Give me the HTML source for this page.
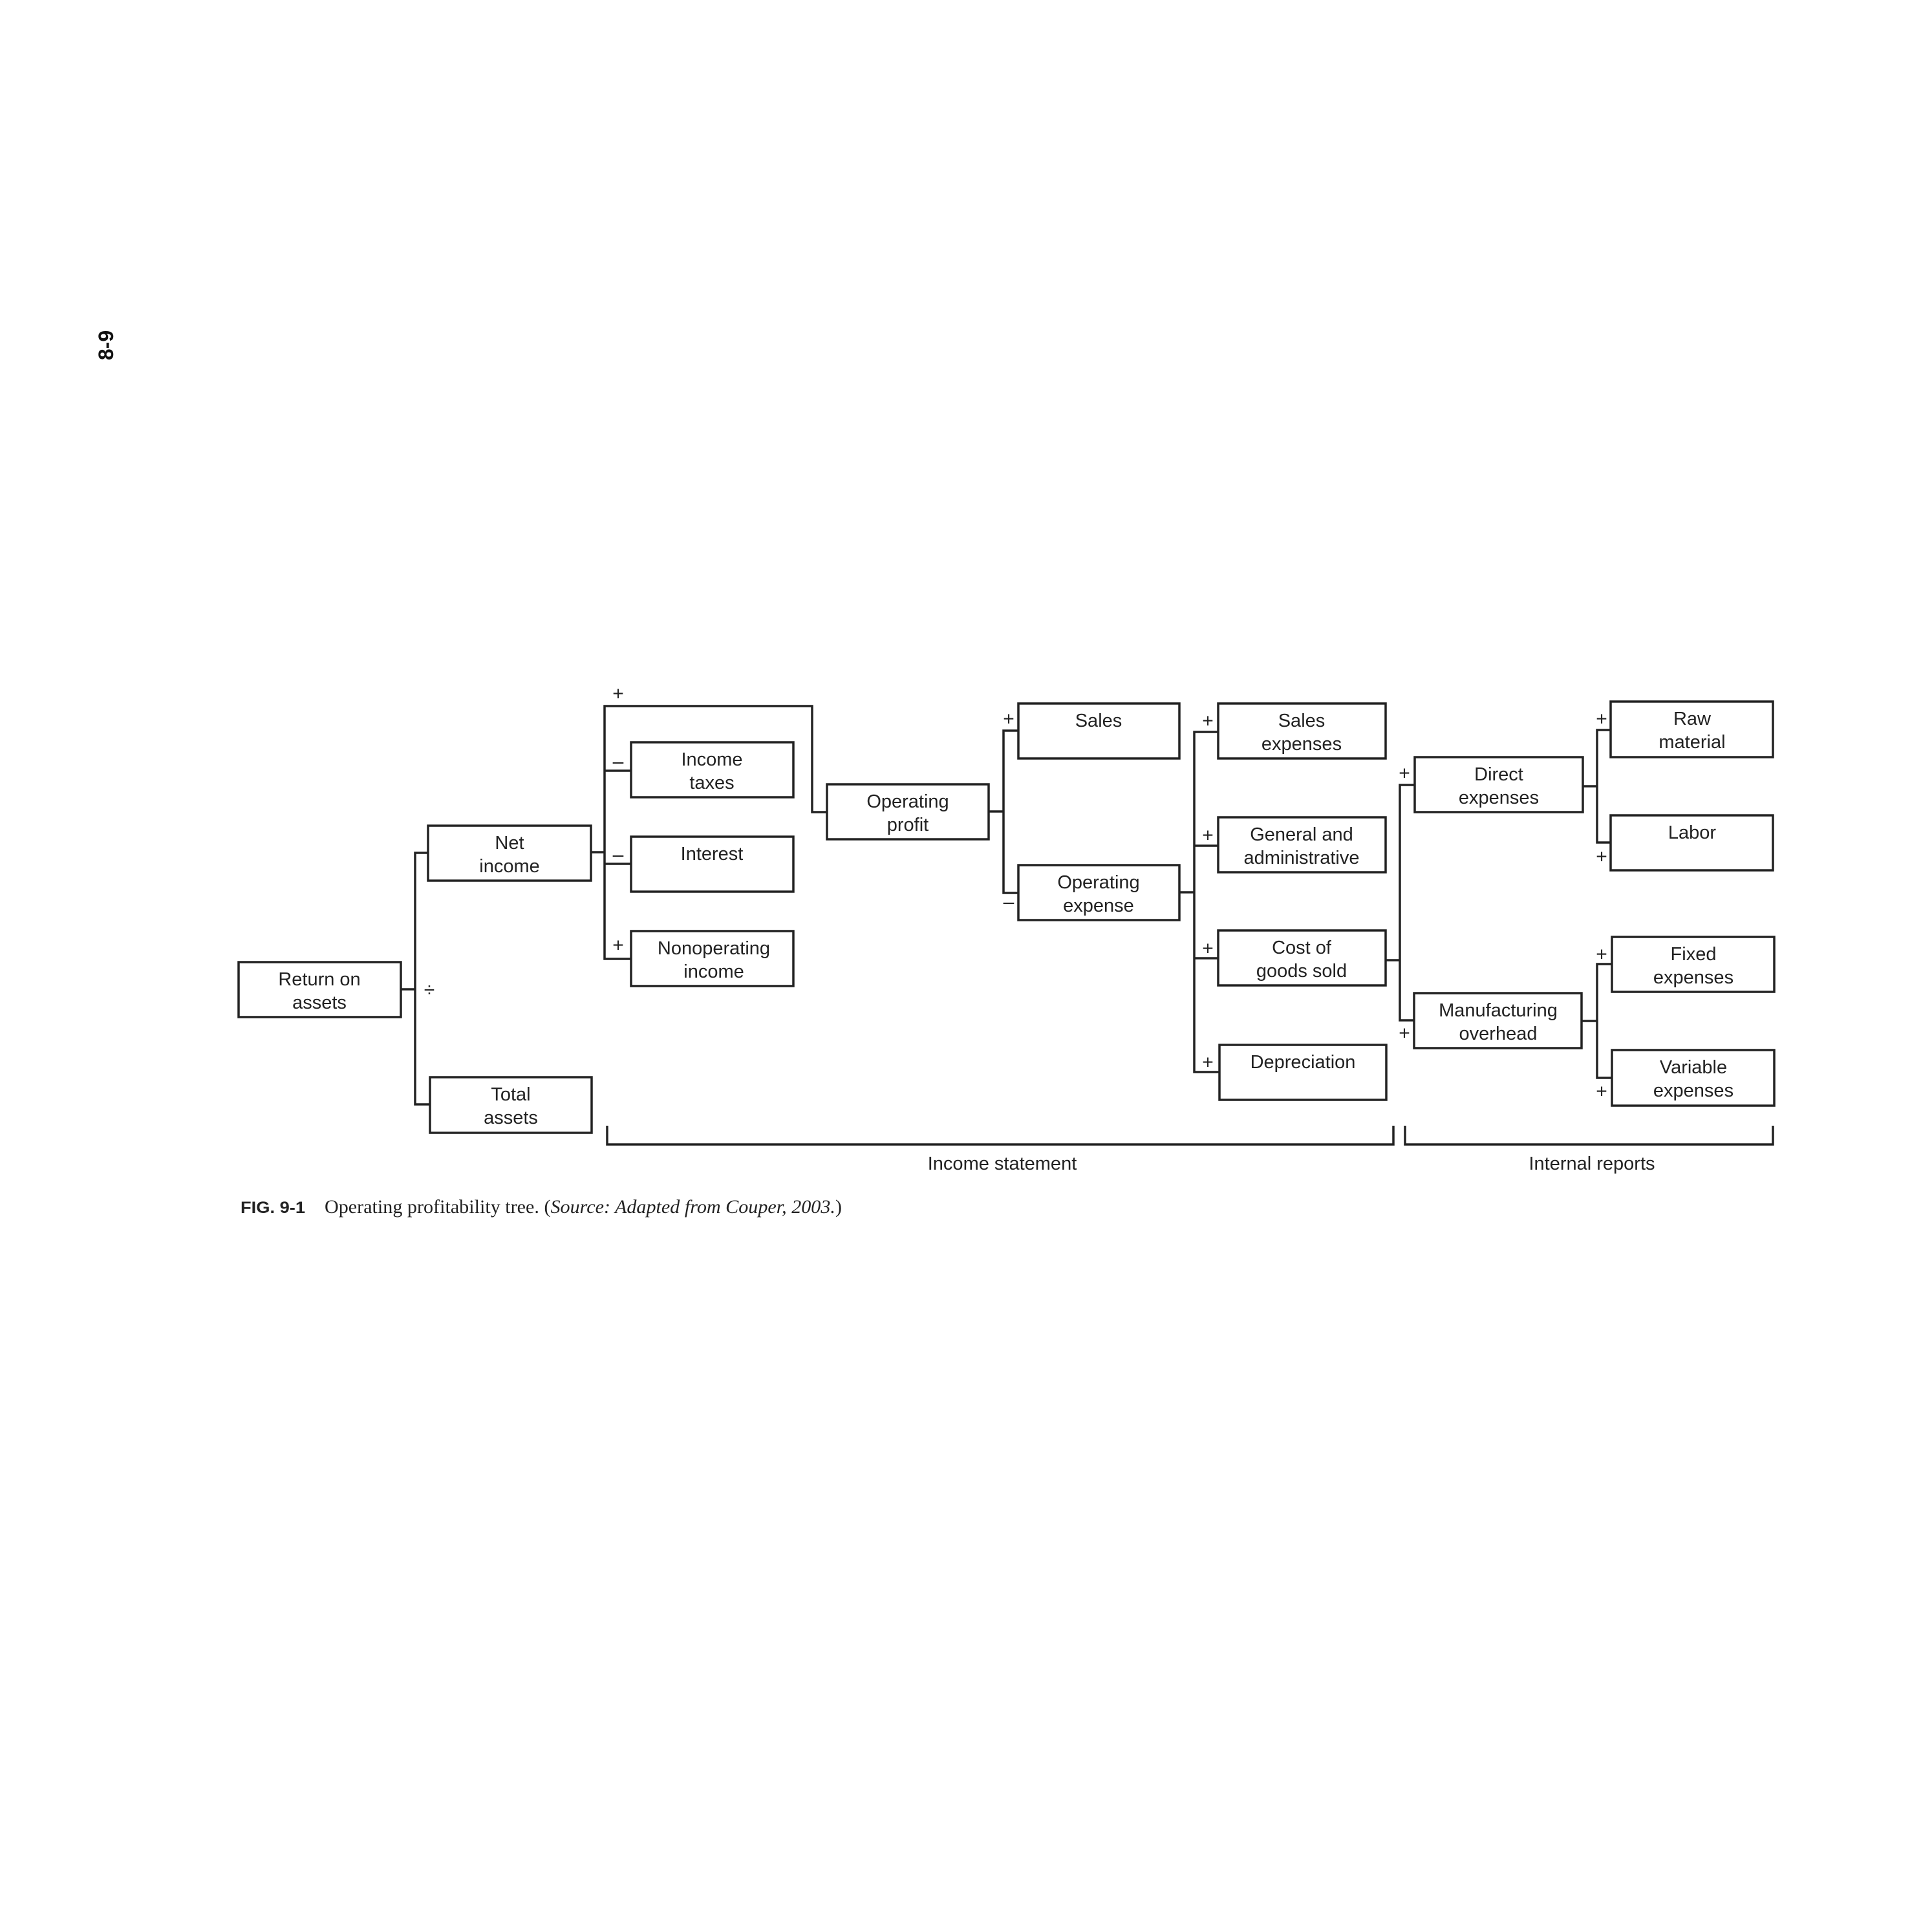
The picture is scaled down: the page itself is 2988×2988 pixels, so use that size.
<!DOCTYPE html>
<html><head><meta charset="utf-8"><style>
html,body{margin:0;padding:0;background:#fff;}
svg{display:block}
</style></head><body>
<svg width="2988" height="2988" viewBox="0 0 2988 2988" xmlns="http://www.w3.org/2000/svg">
<rect width="2988" height="2988" fill="#fff"/>
<g fill="none" stroke="#222" stroke-width="3.5">
<rect x="369" y="1488" width="251" height="85"/>
<rect x="662" y="1277" width="252" height="85"/>
<rect x="665" y="1666" width="250" height="86"/>
<rect x="976" y="1148" width="251" height="85"/>
<rect x="976" y="1294" width="251" height="85"/>
<rect x="976" y="1440" width="251" height="85"/>
<rect x="1279" y="1213" width="250" height="85"/>
<rect x="1575" y="1088" width="249" height="85"/>
<rect x="1575" y="1338" width="249" height="85"/>
<rect x="1884" y="1088" width="259" height="85"/>
<rect x="1884" y="1264" width="259" height="85"/>
<rect x="1884" y="1439" width="259" height="85"/>
<rect x="1886" y="1616" width="258" height="85"/>
<rect x="2188" y="1171" width="260" height="85"/>
<rect x="2187" y="1536" width="259" height="85"/>
<rect x="2491" y="1085" width="251" height="86"/>
<rect x="2491" y="1261" width="251" height="85"/>
<rect x="2493" y="1449" width="251" height="85"/>
<rect x="2493" y="1624" width="251" height="86"/>
<polyline points="620,1530 642,1530"/>
<polyline points="662,1319 642,1319 642,1708 665,1708"/>
<polyline points="914,1318 935,1318"/>
<polyline points="976,1192 935,1192"/>
<polyline points="976,1336 935,1336"/>
<polyline points="976,1483 935,1483 935,1092 1256,1092 1256,1256 1279,1256"/>
<polyline points="1529,1255 1552,1255"/>
<polyline points="1575,1130 1552,1130 1552,1381 1575,1381"/>
<polyline points="1824,1380 1847,1380"/>
<polyline points="1884,1132 1847,1132 1847,1658 1886,1658"/>
<polyline points="1884,1308 1847,1308"/>
<polyline points="1884,1482 1847,1482"/>
<polyline points="2143,1485 2165,1485"/>
<polyline points="2188,1214 2165,1214 2165,1578 2187,1578"/>
<polyline points="2448,1216 2470,1216"/>
<polyline points="2491,1129 2470,1129 2470,1303 2491,1303"/>
<polyline points="2446,1579 2470,1579"/>
<polyline points="2493,1491 2470,1491 2470,1667 2493,1667"/>
<polyline points="939,1741 939,1770 2155,1770 2155,1741"/>
<polyline points="2173,1741 2173,1770 2742,1770 2742,1741"/>
</g>
<g font-family="Liberation Sans, Arial, sans-serif" font-size="29" fill="#222" text-anchor="middle">
<text x="494" y="1524">Return on</text><text x="494" y="1560">assets</text>
<text x="788" y="1313">Net</text><text x="788" y="1349">income</text>
<text x="790" y="1702">Total</text><text x="790" y="1738">assets</text>
<text x="1101" y="1184">Income</text><text x="1101" y="1220">taxes</text>
<text x="1101" y="1330">Interest</text>
<text x="1104" y="1476">Nonoperating</text><text x="1104" y="1512">income</text>
<text x="1404" y="1249">Operating</text><text x="1404" y="1285">profit</text>
<text x="1699" y="1124">Sales</text>
<text x="1699" y="1374">Operating</text><text x="1699" y="1410">expense</text>
<text x="2013" y="1124">Sales</text><text x="2013" y="1160">expenses</text>
<text x="2013" y="1300">General and</text><text x="2013" y="1336">administrative</text>
<text x="2013" y="1475">Cost of</text><text x="2013" y="1511">goods sold</text>
<text x="2015" y="1652">Depreciation</text>
<text x="2318" y="1207">Direct</text><text x="2318" y="1243">expenses</text>
<text x="2317" y="1572">Manufacturing</text><text x="2317" y="1608">overhead</text>
<text x="2617" y="1121">Raw</text><text x="2617" y="1157">material</text>
<text x="2617" y="1297">Labor</text>
<text x="2619" y="1485">Fixed</text><text x="2619" y="1521">expenses</text>
<text x="2619" y="1660">Variable</text><text x="2619" y="1696">expenses</text>
<text x="1550" y="1809">Income statement</text>
<text x="2462" y="1809">Internal reports</text>
</g>
<g font-family="Liberation Sans, Arial, sans-serif" font-size="30" fill="#222" text-anchor="middle" dominant-baseline="central">
<text x="664" y="1531">÷</text>
<text x="956" y="1073">+</text>
<text x="956" y="1178">–</text>
<text x="956" y="1322">–</text>
<text x="956" y="1462">+</text>
<text x="1560" y="1112">+</text>
<text x="1560" y="1395">–</text>
<text x="1868" y="1115">+</text>
<text x="1868" y="1292">+</text>
<text x="1868" y="1467">+</text>
<text x="1868" y="1643">+</text>
<text x="2172" y="1196">+</text>
<text x="2172" y="1598">+</text>
<text x="2477" y="1112">+</text>
<text x="2477" y="1325">+</text>
<text x="2477" y="1476">+</text>
<text x="2477" y="1688">+</text>
</g>
<text x="372" y="1876" font-family="Liberation Sans, Arial, sans-serif" font-weight="bold" font-size="25" fill="#222" textLength="100" lengthAdjust="spacingAndGlyphs">FIG. 9-1</text>
<text x="502" y="1876" font-family="Liberation Serif, serif" font-size="30" fill="#222" textLength="800" lengthAdjust="spacingAndGlyphs">Operating profitability tree. (<tspan font-style="italic">Source: Adapted from Couper, 2003.</tspan>)</text>
<text transform="translate(175,534) rotate(-90)" font-family="Liberation Sans, Arial, sans-serif" font-weight="bold" font-size="32" fill="#111" text-anchor="middle">8-9</text>
</svg>
</body></html>
